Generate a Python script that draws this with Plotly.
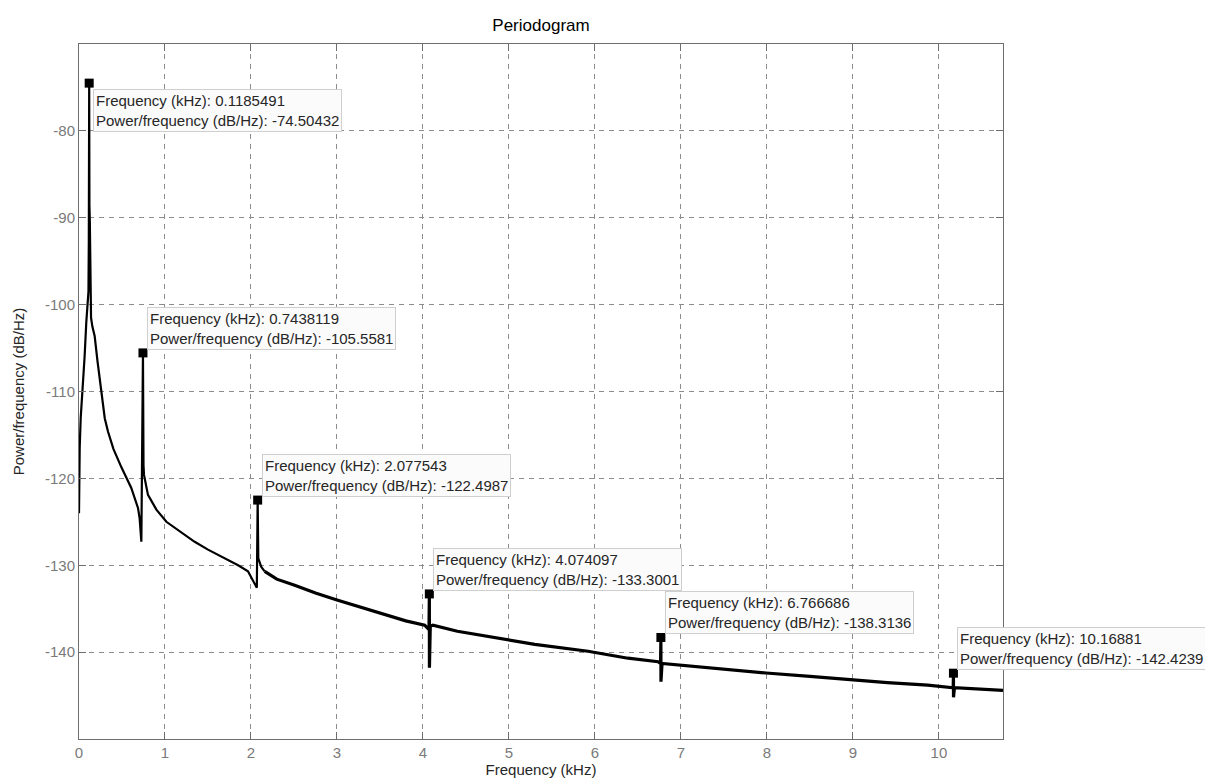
import plotly.graph_objects as go

# Periodogram curve (frequency in kHz, power in dB/Hz)
# low-frequency part (drawn thinner) and high-frequency part (noisier, drawn thicker)
freq_low_khz = [
    0.0, 0.004, 0.008, 0.02, 0.027, 0.047, 0.065, 0.085, 0.100, 0.110, 0.114, 0.117, 0.1185491,
    0.121, 0.126, 0.130, 0.133, 0.140, 0.155, 0.182, 0.215, 0.248, 0.300, 0.337, 0.40, 0.492,
    0.608, 0.686, 0.705, 0.725, 0.7438119, 0.750, 0.756, 0.802, 0.90, 1.016, 1.20, 1.345,
    1.50, 1.694, 1.85, 1.965, 2.035, 2.068, 2.077543, 2.085, 2.120, 2.159,
]
power_low_db = [
    -124.0, -118.5, -116.5, -113.0, -112.0, -108.2, -106.0, -102.0, -100.0, -98.5, -93.0, -86.0, -74.50432,
    -88.5, -90.5, -95.0, -99.5, -101.5, -102.5, -103.6, -106.5, -109.3, -113.1, -114.6, -116.6, -118.7,
    -121.1, -123.4, -124.6, -127.3, -105.5581, -118.5, -119.6, -121.9, -123.6, -125.0, -126.3, -127.3,
    -128.2, -129.2, -130.0, -130.7, -131.9, -132.6, -122.4987, -129.2, -130.2, -130.7,
]
freq_high_khz = [
    2.159, 2.30, 2.508, 2.75, 3.00, 3.30, 3.593, 3.80, 4.020, 4.070, 4.074097, 4.0750, 4.085, 4.116,
    4.40, 4.756, 5.30, 5.919, 6.384, 6.733, 6.763, 6.766686, 6.7675, 6.780, 7.004, 7.50, 7.99,
    8.50, 8.98, 9.40, 9.87, 10.12, 10.166, 10.16881, 10.1695, 10.180, 10.50, 10.745,
]
power_high_db = [
    -130.7, -131.6, -132.3, -133.2, -134.0, -134.9, -135.7, -136.4, -136.9, -137.4, -133.3001, -141.8, -137.0, -136.9,
    -137.6, -138.2, -139.1, -139.9, -140.7, -141.1, -141.3, -138.3136, -143.4, -141.3, -141.5, -142.0, -142.4,
    -142.8, -143.2, -143.5, -143.8, -144.0, -144.1, -142.4239, -145.2, -144.1, -144.3, -144.4,
]

# Data tips shown on the chart
tip_freq = [0.1185491, 0.7438119, 2.077543, 4.074097, 6.766686, 10.16881]
tip_power = [-74.50432, -105.5581, -122.4987, -133.3001, -138.3136, -142.4239]
tip_freq_text = ["0.1185491", "0.7438119", "2.077543", "4.074097", "6.766686", "10.16881"]
tip_power_text = ["-74.50432", "-105.5581", "-122.4987", "-133.3001", "-138.3136", "-142.4239"]

x_ticks = [0, 1, 2, 3, 4, 5, 6, 7, 8, 9, 10]
y_ticks = [-140, -130, -120, -110, -100, -90, -80]

FONT = "Liberation Sans, Arial, Helvetica, sans-serif"

fig = go.Figure()
fig.add_trace(go.Scatter(
    x=freq_low_khz, y=power_low_db, mode="lines",
    line=dict(color="black", width=2.2),
    showlegend=False, hoverinfo="skip",
))
fig.add_trace(go.Scatter(
    x=freq_high_khz, y=power_high_db, mode="lines",
    line=dict(color="black", width=3.2),
    showlegend=False, hoverinfo="skip",
))
fig.add_trace(go.Scatter(
    x=tip_freq, y=tip_power, mode="markers",
    marker=dict(symbol="square", size=9, color="black"),
    showlegend=False, hoverinfo="skip",
))

for i, (fx, py) in enumerate(zip(tip_freq, tip_power)):
    below = (i == 0)
    fig.add_annotation(
        x=fx, y=py, xref="x", yref="y",
        text=f"Frequency (kHz): {tip_freq_text[i]}<br>Power/frequency (dB/Hz): {tip_power_text[i]}",
        showarrow=False, align="left",
        xanchor="left", yanchor="top" if below else "bottom",
        xshift=4, yshift=-6 if below else 3,
        font=dict(family=FONT, size=15, color="#262626"),
        bgcolor="#fbfbfb", bordercolor="#cfcfcf", borderwidth=1, borderpad=2,
    )

axis_common = dict(
    showline=True, linecolor="#6e6e6e", linewidth=1, mirror="ticks",
    ticks="inside", ticklen=7, tickcolor="#6e6e6e", tickwidth=1,
    showgrid=True, gridcolor="#8c8c8c", gridwidth=1, griddash="5px,5px",
    zeroline=False,
    tickfont=dict(family=FONT, size=15, color="#7a7a7a"),
)

fig.update_xaxes(
    range=[0, 10.745], tickvals=x_ticks, ticktext=[str(v) for v in x_ticks],
    title=dict(text="Frequency (kHz)", font=dict(family=FONT, size=15, color="#262626"), standoff=1),
    **axis_common,
)
fig.update_yaxes(
    range=[-150, -70], tickvals=y_ticks, ticktext=[str(v) for v in y_ticks],
    title=dict(text="Power/frequency (dB/Hz)", font=dict(family=FONT, size=15, color="#262626"), standoff=16),
    **axis_common,
)

fig.update_layout(
    width=1213, height=779,
    margin=dict(l=71, r=218, t=36, b=48, autoexpand=False),
    paper_bgcolor="white", plot_bgcolor="white",
    title=dict(text="Periodogram", x=0.5, xref="paper", y=1 - 17 / 779, yref="container",
               xanchor="center", yanchor="middle",
               font=dict(family=FONT, size=17, color="#000000")),
    font=dict(family=FONT),
)

fig.write_html("out.html")
